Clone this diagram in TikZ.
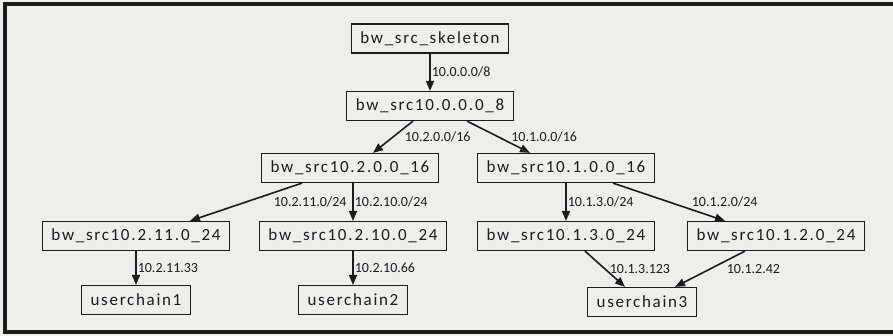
\documentclass[tikz,border=0pt]{standalone}
\usepackage{fontspec}
\newfontfamily\boxfont[LetterSpace=10]{Carlito}
\newfontfamily\edgefont{Carlito}
\usetikzlibrary{arrows.meta}
\definecolor{paper}{HTML}{EFEEEA}
\definecolor{ink}{HTML}{1C1C1C}
\newcommand\dotgap{\kern2pt}
\tikzset{
  srcbox/.style   = {rectangle, draw=ink, fill=paper, line width=1.2pt,
                     minimum height=29pt, inner xsep=9pt, text=ink,
                     font=\boxfont\fontsize{17}{20}\selectfont},
  elbl/.style     = {anchor=west, inner sep=1pt, text=ink,
                     font=\edgefont\fontsize{14}{16}\selectfont},
  route/.style    = {-{Triangle[length=10pt, width=8pt]}, line width=1.6pt, draw=ink},
  frameline/.style= {line width=4pt, draw=ink},
}

\begin{document}
\begin{tikzpicture}[x=1pt, y=-1pt]
	\fill[paper] (0,0) rectangle (893,336);
	\useasboundingbox (0,0) rectangle (893,336);
	\draw[frameline] (893,4) -- (5,4) -- (5,332) -- (893,332);

	\node[srcbox] (skel)   at (430,38.5) {bw\_src\_skeleton};
	\node[srcbox] (src8)   at (430,106)  {bw\_src10.\dotgap0.\dotgap0.\dotgap0\_8};
	\node[srcbox] (src2)   at (350,168)  {bw\_src10.\dotgap2.\dotgap0.\dotgap0\_16};
	\node[srcbox] (src1)   at (566,168)  {bw\_src10.\dotgap1.\dotgap0.\dotgap0\_16};
	\node[srcbox] (src211) at (136,236)  {bw\_src10.\dotgap2.\dotgap11.\dotgap0\_24};
	\node[srcbox] (src210) at (353,236)  {bw\_src10.\dotgap2.\dotgap10.\dotgap0\_24};
	\node[srcbox] (src13)  at (566,236)  {bw\_src10.\dotgap1.\dotgap3.\dotgap0\_24};
	\node[srcbox] (src12)  at (776,236)  {bw\_src10.\dotgap1.\dotgap2.\dotgap0\_24};
	\node[srcbox] (uc1)    at (136,300)  {userchain1};
	\node[srcbox] (uc2)    at (353,300)  {userchain2};
	\node[srcbox] (uc3)    at (642,302)  {userchain3};

	\draw[route] (skel) -- (src8) node[elbl, pos=.5] {10.0.0.0/8};
	\draw[route] ([xshift=-17pt]src8.south) -- ([xshift=23pt]src2.north)
		node[elbl, pos=.5, xshift=10pt] {10.2.0.0/16};
	\draw[route] ([xshift=37pt]src8.south) -- ([xshift=-36pt]src1.north)
		node[elbl, pos=.5, xshift=11pt] {10.1.0.0/16};
	\draw[route] ([xshift=-48pt]src2.south) -- ([xshift=54pt]src211.north)
		node[elbl, pos=.5, xshift=26pt] {10.2.11.0/24};
	\draw[route] (src210 |- src2.south) -- (src210.north)
		node[elbl, pos=.5] {10.2.10.0/24};
	\draw[route] (src1) -- (src13) node[elbl, pos=.5] {10.1.3.0/24};
	\draw[route] ([xshift=47pt]src1.south) -- ([xshift=-51pt]src12.north)
		node[elbl, pos=.5, xshift=21pt] {10.1.2.0/24};
	\draw[route] (src211) -- (uc1) node[elbl, pos=.5] {10.2.11.33};
	\draw[route] (src210) -- (uc2) node[elbl, pos=.5] {10.2.10.66};
	\draw[route] ([xshift=19pt]src13.south) -- ([xshift=-17pt]uc3.north)
		node[elbl, pos=.5, xshift=3pt] {10.1.3.123};
	\draw[route] ([xshift=-31pt]src12.south) -- ([xshift=33pt]uc3.north)
		node[elbl, pos=.5, xshift=15pt] {10.1.2.42};
\end{tikzpicture}
\end{document}
